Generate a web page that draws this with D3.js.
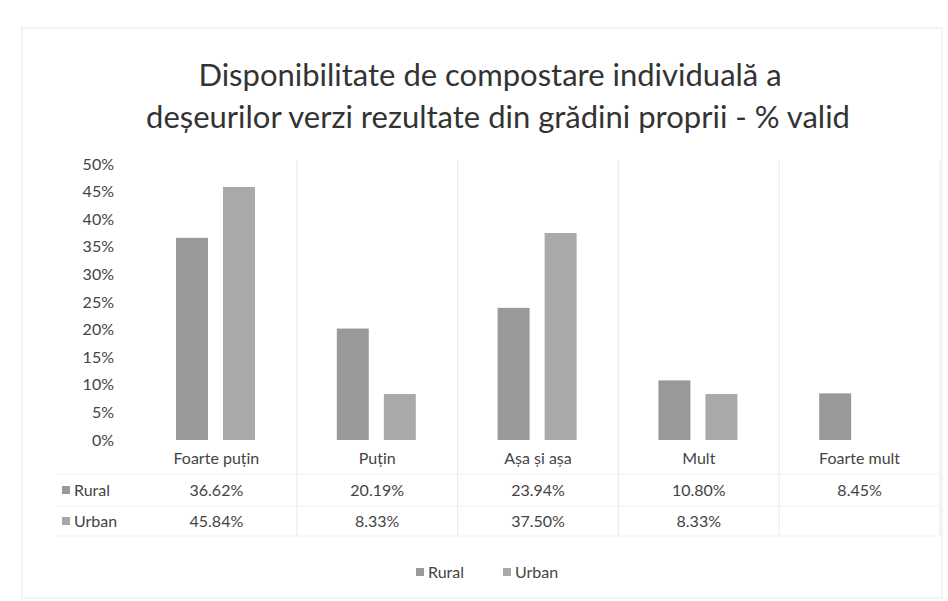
<!DOCTYPE html>
<html>
<head>
<meta charset="utf-8">
<script src="https://cdn.jsdelivr.net/npm/d3@7"></script>
<style>
  body { margin: 0; background: #fff; }
  svg { display: block; }
</style>
</head>
<body>
<div id="graphic"></div>
<script>
// values
const categories = ['Foarte puțin', 'Puțin', 'Așa și așa', 'Mult', 'Foarte mult'];
const seriesNames = ['Rural', 'Urban'];
const rural = [0.3662, 0.2019, 0.2394, 0.1080, 0.0845];
const urban = [0.4584, 0.0833, 0.3750, 0.0833, null];
const yTicks = [0, 0.05, 0.10, 0.15, 0.20, 0.25, 0.30, 0.35, 0.40, 0.45, 0.50];

const width = 948, height = 601;
const colors = ['#999999', '#a9a9a9'];
const textColor = '#444';
const font = 'Lato, "Open Sans", sans-serif';
const fs = 16;

const svg = d3.select('#graphic').append('svg')
  .attr('width', width)
  .attr('height', height)
  .attr('font-family', font);

// faint frame of the scanned chart area
svg.append('rect')
  .attr('x', 22).attr('y', 28)
  .attr('width', 920).attr('height', 570)
  .attr('fill', 'none')
  .attr('stroke', '#e8e8e8');

const title = svg.append('g')
  .attr('text-anchor', 'middle')
  .attr('fill', '#333')
  .attr('font-size', 31);
title.append('text').attr('x', 490).attr('y', 86)
  .text('Disponibilitate de compostare individuală a');
title.append('text').attr('x', 498).attr('y', 128)
  .text('deșeurilor verzi rezultate din grădini proprii - % valid');

const x = d3.scaleBand()
  .domain(categories)
  .range([136, 940]);

const xs = d3.scaleBand()
  .domain(seriesNames)
  .range([40, 119])
  .paddingInner(0.32);

const y = d3.scaleLinear()
  .domain([0, 0.5])
  .range([440, 164]);

// vertical separators (plot + data table)
svg.append('g')
  .selectAll('line')
  .data(categories.slice(1).concat(['end']))
  .join('line')
    .attr('x1', d => d === 'end' ? x.range()[1] : x(d))
    .attr('x2', d => d === 'end' ? x.range()[1] : x(d))
    .attr('y1', 160)
    .attr('y2', 536)
    .attr('stroke', '#e8e8e8');

// table horizontal borders
svg.append('g')
  .selectAll('line')
  .data([474, 506, 536])
  .join('line')
    .attr('x1', 56).attr('x2', x.range()[1])
    .attr('y1', d => d).attr('y2', d => d)
    .attr('stroke', '#f0f0f0');

// y axis labels
const yAxis = d3.axisLeft(y)
  .tickValues(yTicks)
  .tickFormat(d3.format('.0%'))
  .tickSize(0)
  .tickPadding(0);

svg.append('g')
  .attr('transform', 'translate(114,0)')
  .call(yAxis)
  .call(g => g.select('.domain').remove())
  .call(g => g.selectAll('text')
    .attr('font-family', font)
    .attr('font-size', fs)
    .attr('fill', textColor));

const series = [rural, urban];

svg.append('g')
  .selectAll('g')
  .data(series)
  .join('g')
    .attr('fill', (d, i) => colors[i])
  .selectAll('rect')
  .data((vals, i) => vals.map((v, j) => ({cat: categories[j], s: seriesNames[i], v: v}))
    .filter(d => d.v != null))
  .join('rect')
    .attr('x', d => x(d.cat) + xs(d.s))
    .attr('width', xs.bandwidth())
    .attr('y', d => y(d.v))
    .attr('height', d => y(0) - y(d.v));

// data table
const table = svg.append('g')
  .attr('font-size', fs)
  .attr('fill', textColor)
  .attr('text-anchor', 'middle');

table.selectAll('.cat')
  .data(categories)
  .join('text')
    .attr('class', 'cat')
    .attr('x', d => x(d) + x.bandwidth() / 2)
    .attr('y', 464)
    .text(d => d);

const rowY = [496, 527];
const fmt = d3.format('.2%');
series.forEach((vals, i) => {
  table.append('g')
    .selectAll('text')
    .data(vals.map((v, j) => ({cat: categories[j], v: v})).filter(d => d.v != null))
    .join('text')
      .attr('x', d => x(d.cat) + x.bandwidth() / 2)
      .attr('y', rowY[i])
      .text(d => fmt(d.v));

  table.append('rect')
    .attr('x', 62).attr('y', rowY[i] - 10)
    .attr('width', 8).attr('height', 8)
    .attr('fill', colors[i]);
  table.append('text')
    .attr('x', 74).attr('y', rowY[i])
    .attr('text-anchor', 'start')
    .text(seriesNames[i]);
});

// legend
const legend = svg.append('g')
  .attr('font-size', fs)
  .attr('fill', textColor);
const legendX = [416, 503];
seriesNames.forEach((s, i) => {
  legend.append('rect')
    .attr('x', legendX[i]).attr('y', 568)
    .attr('width', 8).attr('height', 8)
    .attr('fill', colors[i]);
  legend.append('text')
    .attr('x', legendX[i] + 12).attr('y', 578)
    .text(s);
});
</script>
</body>
</html>
